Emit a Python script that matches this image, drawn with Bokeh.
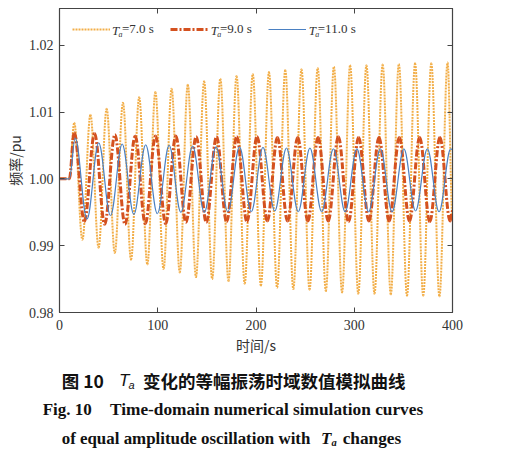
import math
from bokeh.plotting import figure
from bokeh.layouts import column
from bokeh.models import (Range1d, FixedTicker, PrintfTickFormatter, LinearAxis,
                          Legend, LegendItem, Label, CustomJSTickFormatter, Div)
from bokeh.embed import file_html
from bokeh.resources import INLINE

# ---------------- data ----------------
x_ticks = [0, 100, 200, 300, 400]
y_ticks = [0.98, 0.99, 1.00, 1.01, 1.02]

t_start = 10.0      # disturbance time (s); flat at 1.0 before
f_initial = 1.0
t_end = 400.0

# Ta = 7.0 s  (growing oscillation)
peak_t_7 = [15.0, 31.5, 48.0, 64.6, 81.1, 97.6, 114.1, 130.6, 147.2, 163.7, 180.2, 196.7,
            213.2, 229.8, 246.3, 262.8, 279.3, 295.8, 312.4, 328.9, 345.4, 361.9, 378.4, 395.0]
peak_v_7 = [1.0084, 1.0096, 1.0105, 1.0114, 1.0122, 1.0130, 1.0135, 1.0141, 1.0146, 1.0150,
            1.0154, 1.0157, 1.0160, 1.0163, 1.0164, 1.0166, 1.0168, 1.0170, 1.0170, 1.0171,
            1.0172, 1.0173, 1.0173, 1.0174]
trough_t_7 = [23.3, 39.8, 56.3, 72.8, 89.4, 105.9, 122.4, 138.9, 155.4, 172.0, 188.5, 205.0,
              221.5, 238.0, 254.5, 271.1, 287.6, 304.1, 320.6, 337.2, 353.7, 370.2, 386.7]
trough_v_7 = [0.9909, 0.9897, 0.9889, 0.9879, 0.9872, 0.9865, 0.9860, 0.9853, 0.9850, 0.9847,
              0.9843, 0.9840, 0.9837, 0.9835, 0.9834, 0.9832, 0.9830, 0.9828, 0.9828, 0.9827,
              0.9825, 0.9825, 0.9824]
end_v_7 = 0.9942

# Ta = 9.0 s
peak_t_9 = [15.0, 35.7, 56.4, 77.0, 97.7, 118.4, 139.1, 159.8, 180.4, 201.1, 221.8, 242.5,
            263.2, 283.8, 304.5, 325.2, 345.9, 366.6, 387.2]
peak_v_9 = [1.0069, 1.0068, 1.0066, 1.0064, 1.0064, 1.0064, 1.0063, 1.0063, 1.0063, 1.0063,
            1.0062, 1.0062, 1.0062, 1.0063, 1.0062, 1.0062, 1.0062, 1.0062, 1.0062]
trough_t_9 = [25.3, 46.0, 66.7, 87.4, 108.1, 128.7, 149.4, 170.1, 190.8, 211.5, 232.1, 252.8,
              273.5, 294.2, 314.9, 335.5, 356.2, 376.9, 397.6]
trough_v_9 = [0.9936, 0.9932, 0.9932, 0.9933, 0.9933, 0.9935, 0.9935, 0.9936, 0.9936, 0.9937,
              0.9937, 0.9937, 0.9937, 0.9936, 0.9937, 0.9937, 0.9937, 0.9936, 0.9937]
end_v_9 = 0.9952

# Ta = 11.0 s
peak_t_11 = [16.0, 39.9, 63.8, 87.7, 111.6, 135.5, 159.3, 183.2, 207.1, 231.0, 254.9, 278.8,
             302.7, 326.6, 350.5, 374.4, 398.2]
peak_v_11 = [1.0061, 1.0054, 1.0052, 1.0051, 1.0050, 1.0049, 1.0048, 1.0048, 1.0047, 1.0046,
             1.0046, 1.0045, 1.0045, 1.0045, 1.0045, 1.0045, 1.0045]
trough_t_11 = [28.0, 51.9, 75.7, 99.6, 123.5, 147.4, 171.3, 195.2, 219.1, 243.0, 266.8, 290.7,
               314.6, 338.5, 362.4, 386.3]
trough_v_11 = [0.9940, 0.9945, 0.9947, 0.9948, 0.9950, 0.9950, 0.9951, 0.9951, 0.9952, 0.9951,
               0.9951, 0.9951, 0.9951, 0.9951, 0.9952, 0.9951]
end_v_11 = 1.0044

series_labels = ["=7.0 s", "=9.0 s", "=11.0 s"]
colors = ["#F2AE48", "#D4511F", "#4A80C2"]

caption_cn = "变化的等幅振荡时域数值模拟曲线"
caption_en_1 = "Time-domain numerical simulation curves"
caption_en_2 = "of equal amplitude oscillation with"

# ---------------- helpers ----------------
def sequence(pt, pv, tt, tv, end_v):
    ts = [0.0, t_start]
    vs = [f_initial, f_initial]
    n = max(len(pt), len(tt))
    for i in range(n):
        if i < len(pt):
            ts.append(pt[i]); vs.append(pv[i])
        if i < len(tt):
            ts.append(tt[i]); vs.append(tv[i])
    ts.append(t_end); vs.append(end_v)
    return ts, vs

K = 1 - 2 / math.pi  # bezier handle ratio giving a cosine-like half wave

def bezier_data(ts, vs):
    x0, y0, x1, y1, cx0, cy0, cx1, cy1 = [], [], [], [], [], [], [], []
    for i in range(len(ts) - 1):
        a, b = ts[i], ts[i + 1]
        x0.append(a); y0.append(vs[i]); x1.append(b); y1.append(vs[i + 1])
        cx0.append(a + K * (b - a)); cy0.append(vs[i])
        cx1.append(b - K * (b - a)); cy1.append(vs[i + 1])
    return dict(x0=x0, y0=y0, x1=x1, y1=y1, cx0=cx0, cy0=cy0, cx1=cx1, cy1=cy1)

# ---------------- main figure ----------------
W = 505
PH = 360
p = figure(width=W, height=PH, output_backend="svg", toolbar_location=None,
           x_range=Range1d(0, 400), y_range=Range1d(0.98, 1.0255),
           min_border_left=59, min_border_right=53, min_border_top=8, min_border_bottom=48)
p.background_fill_color = "white"
p.border_fill_color = "white"
p.outline_line_color = "#444444"
p.outline_line_width = 1.2
p.xgrid.visible = False
p.ygrid.visible = False

axis_color = "#444444"
tick_font = "Liberation Serif"

for ax in (p.xaxis[0], p.yaxis[0]):
    ax.axis_line_color = axis_color
    ax.major_tick_line_color = axis_color
    ax.major_tick_in = 5
    ax.major_tick_out = 0
    ax.minor_tick_line_color = None
    ax.major_label_text_font = tick_font
    ax.major_label_text_font_size = "14px"
    ax.major_label_text_color = "#333333"
    ax.axis_label_text_font = "Noto Sans CJK SC"
    ax.axis_label_text_font_size = "14px"
    ax.axis_label_text_font_style = "normal"
    ax.axis_label_text_color = "#333333"

p.xaxis[0].ticker = FixedTicker(ticks=x_ticks)
p.yaxis[0].ticker = FixedTicker(ticks=y_ticks)
p.yaxis[0].formatter = PrintfTickFormatter(format="%.2f")
p.xaxis[0].axis_label = "时间/s"
p.yaxis[0].axis_label = "频率/pu"
p.xaxis[0].major_label_standoff = 7
p.yaxis[0].major_label_standoff = 6
p.xaxis[0].axis_label_standoff = 2
p.yaxis[0].axis_label_standoff = 1

blank = CustomJSTickFormatter(code="return ''")
top_ax = LinearAxis(ticker=FixedTicker(ticks=x_ticks), formatter=blank,
                    major_tick_in=5, major_tick_out=0, minor_tick_line_color=None,
                    axis_line_color=axis_color, major_tick_line_color=axis_color,
                    major_label_standoff=0, major_label_text_font_size="1px")
right_ax = LinearAxis(ticker=FixedTicker(ticks=y_ticks), formatter=blank,
                      major_tick_in=5, major_tick_out=0, minor_tick_line_color=None,
                      axis_line_color=axis_color, major_tick_line_color=axis_color,
                      major_label_standoff=0, major_label_text_font_size="1px")
p.add_layout(top_ax, "above")
p.add_layout(right_ax, "right")

# ---------------- curves ----------------
all_series = [
    sequence(peak_t_7, peak_v_7, trough_t_7, trough_v_7, end_v_7),
    sequence(peak_t_9, peak_v_9, trough_t_9, trough_v_9, end_v_9),
    sequence(peak_t_11, peak_v_11, trough_t_11, trough_v_11, end_v_11),
]
styles = [dict(line_width=2.0, line_dash="2 1"),
          dict(line_width=3.0, line_dash="7 2 2 2"),
          dict(line_width=1.2, line_dash="solid")]

renderers = []
for (ts, vs), col, st in zip(all_series, colors, styles):
    src = bezier_data(ts, vs)
    r = p.bezier(x0="x0", y0="y0", x1="x1", y1="y1", cx0="cx0", cy0="cy0",
                 cx1="cx1", cy1="cy1", source=src, line_color=col, **st)
    renderers.append(r)

legend = Legend(items=[LegendItem(label=lab, renderers=[r]) for lab, r in zip(series_labels, renderers)],
                orientation="horizontal", location="top_left", margin=13, padding=0,
                glyph_width=38, glyph_height=16, label_standoff=12, spacing=16,
                border_line_color=None, background_fill_alpha=0,
                label_text_font="Liberation Serif", label_text_font_size="13px",
                label_text_color="#333333", label_height=16)
p.add_layout(legend, "center")

# italic "T" with subscript "a" in front of each legend label
frame_h = 303.7
leg_y = frame_h - 21.5
for xT in [52.6, 151.2, 249.2]:
    p.add_layout(Label(x=xT, y=leg_y, x_units="screen", y_units="screen", text="T",
                       text_font="Liberation Serif", text_font_style="italic",
                       text_font_size="13px", text_color="#333333",
                       text_baseline="middle", text_align="left"))
    p.add_layout(Label(x=xT + 6.5, y=leg_y - 4, x_units="screen", y_units="screen", text="a",
                       text_font="Liberation Serif", text_font_style="italic",
                       text_font_size="8px", text_color="#333333",
                       text_baseline="middle", text_align="left"))

# ---------------- caption (HTML text below the plot) ----------------
CH = 86
LH = 20
pieces = [
    (61.7, 381, "图 10", "Noto Sans CJK SC", 17.5, "bold", "normal"),
    (119.0, 381, "T", "Liberation Sans", 17, "normal", "italic"),
    (128.5, 385, "a", "Liberation Sans", 11, "normal", "italic"),
    (143.0, 381, caption_cn, "Noto Sans CJK SC", 17.5, "bold", "normal"),
    (42.7, 410, "Fig. 10", "Liberation Serif", 17, "bold", "normal"),
    (110.0, 410, caption_en_1, "Liberation Serif", 17.3, "bold", "normal"),
    (61.7, 439, caption_en_2, "Liberation Serif", 16.9, "bold", "normal"),
    (321.0, 439, "T", "Liberation Serif", 17, "bold", "italic"),
    (331.5, 443, "a", "Liberation Serif", 10.5, "bold", "italic"),
    (342.7, 439, "changes", "Liberation Serif", 17.3, "bold", "normal"),
]
spans = []
for x, yc, txt, font, size, weight, style in pieces:
    top = yc - PH - LH / 2
    spans.append(
        f'<span style="position:absolute;left:{x}px;top:{top}px;line-height:{LH}px;'
        f"font-family:'{font}';font-size:{size}px;font-weight:{weight};font-style:{style};"
        f'color:#111111;white-space:nowrap;">{txt}</span>')
cap_div = Div(text='<div style="position:relative;width:%dpx;height:%dpx;">%s</div>'
              % (W, CH, "".join(spans)), width=W, height=CH,
              styles={"margin": "0", "padding": "0"})

layout = column(p, cap_div, spacing=0)
open("out.html", "w").write(file_html(layout, INLINE))
